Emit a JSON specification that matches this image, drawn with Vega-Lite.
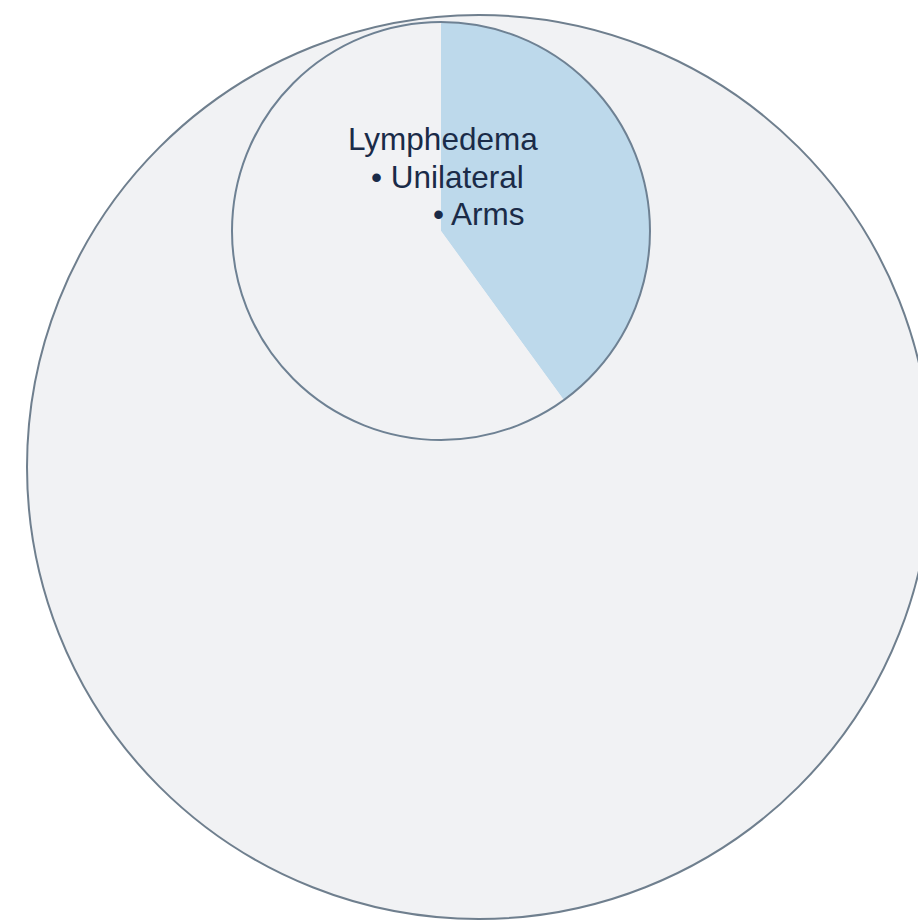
{
  "$schema": "https://vega.github.io/schema/vega-lite/v6.json",
  "width": 918,
  "height": 922,
  "padding": 0,
  "autosize": {"type": "none"},
  "background": "#ffffff",
  "config": {"view": {"stroke": null}},
  "datasets": {
    "circles": [
      {"name": "All", "cx": 479, "cy": 467, "share": 1},
      {"name": "Lymphedema", "cx": 441, "cy": 231, "share": 0.2138, "l1": "Lymphedema", "l2": "• Unilateral", "l3": "• Arms"}
    ],
    "slices": [
      {"segment": "Arms", "value": 40, "cx": 441, "cy": 231, "share": 0.2138},
      {"segment": "Other", "value": 60, "cx": 441, "cy": 231, "share": 0.2138}
    ]
  },
  "layer": [
    {
      "data": {"name": "circles"},
      "transform": [{"filter": "datum.name === 'All'"}],
      "mark": {"type": "arc", "theta": 0, "theta2": 6.2832, "fill": "#F1F2F4", "stroke": "#6F7F8E", "strokeWidth": 2},
      "encoding": {
        "x": {"field": "cx", "type": "quantitative", "scale": {"domain": [0, 918], "nice": false, "zero": false}, "axis": null},
        "y": {"field": "cy", "type": "quantitative", "scale": {"domain": [0, 922], "nice": false, "zero": false, "reverse": true}, "axis": null},
        "radius": {"field": "share", "type": "quantitative", "scale": {"type": "sqrt", "domain": [0, 1], "range": [0, 452], "zero": true}}
      }
    },
    {
      "data": {"name": "slices"},
      "mark": {"type": "arc"},
      "encoding": {
        "x": {"field": "cx", "type": "quantitative", "scale": {"domain": [0, 918], "nice": false, "zero": false}, "axis": null},
        "y": {"field": "cy", "type": "quantitative", "scale": {"domain": [0, 922], "nice": false, "zero": false, "reverse": true}, "axis": null},
        "radius": {"field": "share", "type": "quantitative", "scale": {"type": "sqrt", "domain": [0, 1], "range": [0, 452], "zero": true}},
        "theta": {"field": "value", "type": "quantitative", "stack": true},
        "color": {"field": "segment", "type": "nominal", "scale": {"domain": ["Arms", "Other"], "range": ["#BDD9EB", "#F1F2F4"]}, "legend": null},
        "order": {"field": "segment", "sort": "ascending"}
      }
    },
    {
      "data": {"name": "circles"},
      "transform": [{"filter": "datum.name === 'Lymphedema'"}],
      "mark": {"type": "arc", "theta": 0, "theta2": 6.2832, "fill": null, "stroke": "#6E8193", "strokeWidth": 2},
      "encoding": {
        "x": {"field": "cx", "type": "quantitative", "scale": {"domain": [0, 918], "nice": false, "zero": false}, "axis": null},
        "y": {"field": "cy", "type": "quantitative", "scale": {"domain": [0, 922], "nice": false, "zero": false, "reverse": true}, "axis": null},
        "radius": {"field": "share", "type": "quantitative", "scale": {"type": "sqrt", "domain": [0, 1], "range": [0, 452], "zero": true}}
      }
    },
    {
      "data": {"name": "circles"},
      "transform": [{"filter": "datum.name === 'Lymphedema'"}],
      "mark": {"type": "text", "align": "left", "baseline": "alphabetic", "dx": -93, "dy": -81, "font": "Liberation Sans", "fontSize": 31.5, "color": "#1A2B48"},
      "encoding": {
        "x": {"field": "cx", "type": "quantitative"},
        "y": {"field": "cy", "type": "quantitative"},
        "text": {"field": "l1"}
      }
    },
    {
      "data": {"name": "circles"},
      "transform": [{"filter": "datum.name === 'Lymphedema'"}],
      "mark": {"type": "text", "align": "left", "baseline": "alphabetic", "dx": -70, "dy": -43, "font": "Liberation Sans", "fontSize": 31.5, "color": "#1A2B48"},
      "encoding": {
        "x": {"field": "cx", "type": "quantitative"},
        "y": {"field": "cy", "type": "quantitative"},
        "text": {"field": "l2"}
      }
    },
    {
      "data": {"name": "circles"},
      "transform": [{"filter": "datum.name === 'Lymphedema'"}],
      "mark": {"type": "text", "align": "left", "baseline": "alphabetic", "dx": -8, "dy": -6, "font": "Liberation Sans", "fontSize": 31.5, "color": "#1A2B48"},
      "encoding": {
        "x": {"field": "cx", "type": "quantitative"},
        "y": {"field": "cy", "type": "quantitative"},
        "text": {"field": "l3"}
      }
    }
  ]
}
